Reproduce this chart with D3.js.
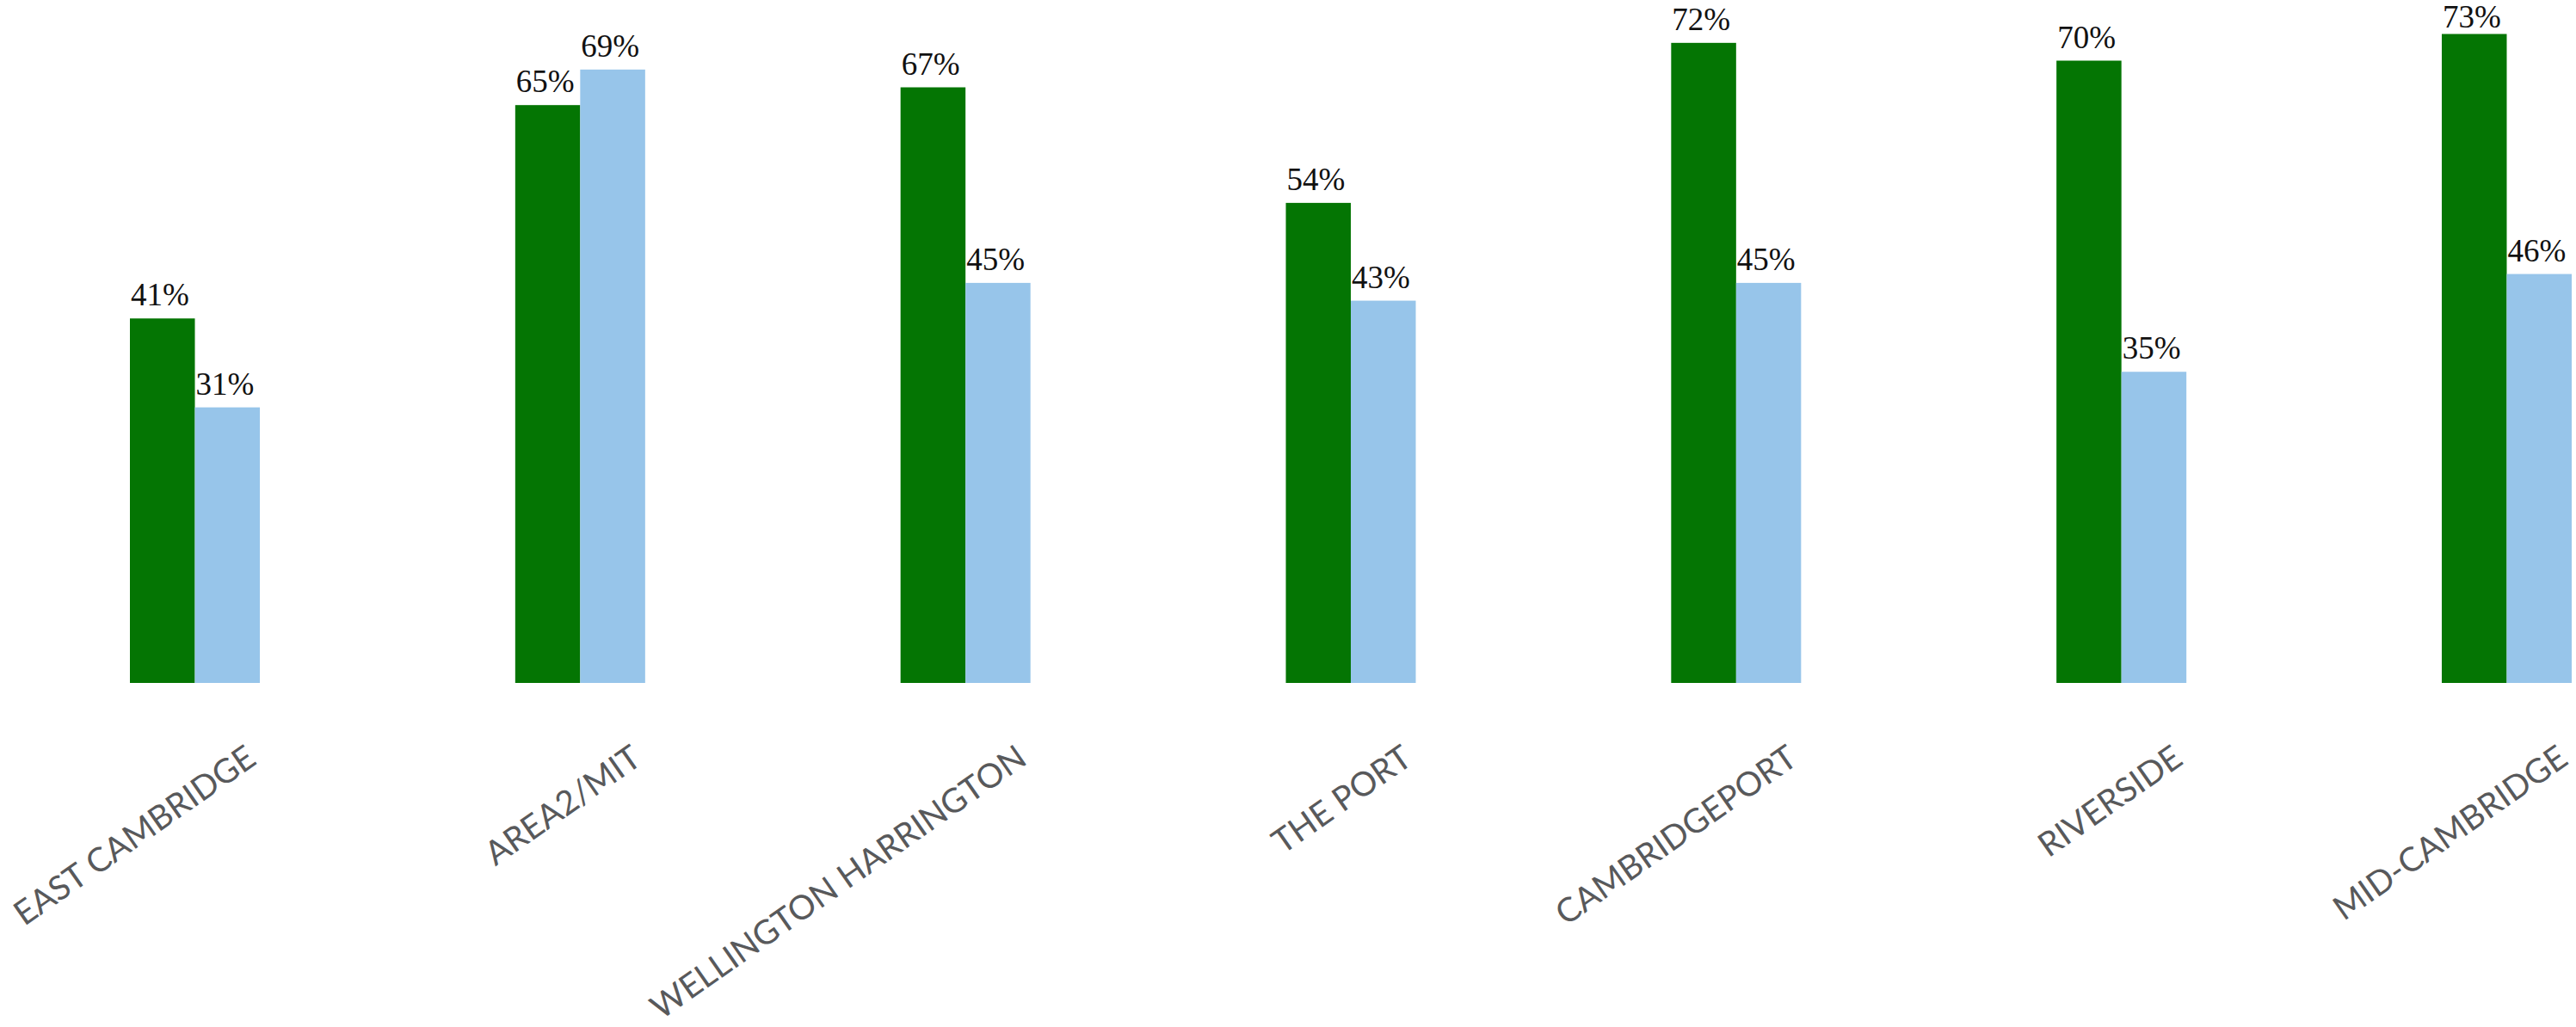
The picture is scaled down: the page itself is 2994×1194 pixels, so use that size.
<!DOCTYPE html>
<html>
<head>
<meta charset="utf-8">
<script src="https://cdn.jsdelivr.net/npm/d3@7"></script>
<style>
  html, body { margin: 0; padding: 0; background: #fff; }
  svg { display: block; }
  .value-label { font-family: "Liberation Serif", "DejaVu Serif", serif; font-size: 37px; fill: #111; }
  .cat-label { font-family: Lato, "Open Sans", sans-serif; font-size: 39px; fill: #58595b; }
</style>
</head>
<body>
<svg id="chart"></svg>
<script>
// Neighborhoods along the x axis
const neighborhoods = [
  "EAST CAMBRIDGE", "AREA2/MIT", "WELLINGTON HARRINGTON", "THE PORT",
  "CAMBRIDGEPORT", "RIVERSIDE", "MID-CAMBRIDGE"
];
// Two series per neighborhood, in percent
const seriesKeys = ["first", "second"];
const firstValues  = [41, 65, 67, 54, 72, 70, 73];
const secondValues = [31, 69, 45, 43, 45, 35, 46];
const seriesColors = ["#047503", "#97c5ea"];

const width = 2994, height = 1194;
const plot = { left: 151, right: 2989, top: 39.5, baseline: 794 };

const svg = d3.select("#chart").attr("width", width).attr("height", height);

const rows = neighborhoods.map((name, i) => ({
  name,
  values: [
    { key: seriesKeys[0], value: firstValues[i] },
    { key: seriesKeys[1], value: secondValues[i] }
  ]
}));

const x0 = d3.scaleBand()
  .domain(neighborhoods)
  .range([plot.left, plot.right])
  .paddingInner(0.6628)
  .paddingOuter(0);

const x1 = d3.scaleBand()
  .domain(seriesKeys)
  .range([0, x0.bandwidth()]);

const y = d3.scaleLinear()
  .domain([0, d3.max(firstValues.concat(secondValues))])
  .range([plot.baseline, plot.top]);

const color = d3.scaleOrdinal().domain(seriesKeys).range(seriesColors);

const groups = svg.append("g").selectAll("g")
  .data(rows)
  .join("g")
  .attr("transform", d => `translate(${x0(d.name)},0)`);

groups.selectAll("rect")
  .data(d => d.values)
  .join("rect")
  .attr("x", d => x1(d.key))
  .attr("y", d => y(d.value))
  .attr("width", x1.bandwidth())
  .attr("height", d => y(0) - y(d.value))
  .attr("fill", d => color(d.key));

// Value labels sit above each bar, kept inside the top edge of the page
groups.selectAll("text.value-label")
  .data(d => d.values)
  .join("text")
  .attr("class", "value-label")
  .attr("x", d => x1(d.key) + 1)
  .attr("y", d => Math.max(y(d.value) - 15, 32))
  .text(d => d.value + "%");

// Rotated neighborhood names, ending under the right edge of each pair
svg.append("g").selectAll("text")
  .data(neighborhoods)
  .join("text")
  .attr("class", "cat-label")
  .attr("text-anchor", "end")
  .attr("transform", d => `translate(${x0(d) + x0.bandwidth() - 2},${plot.baseline + 93}) rotate(-35)`)
  .text(d => d);
</script>
</body>
</html>
